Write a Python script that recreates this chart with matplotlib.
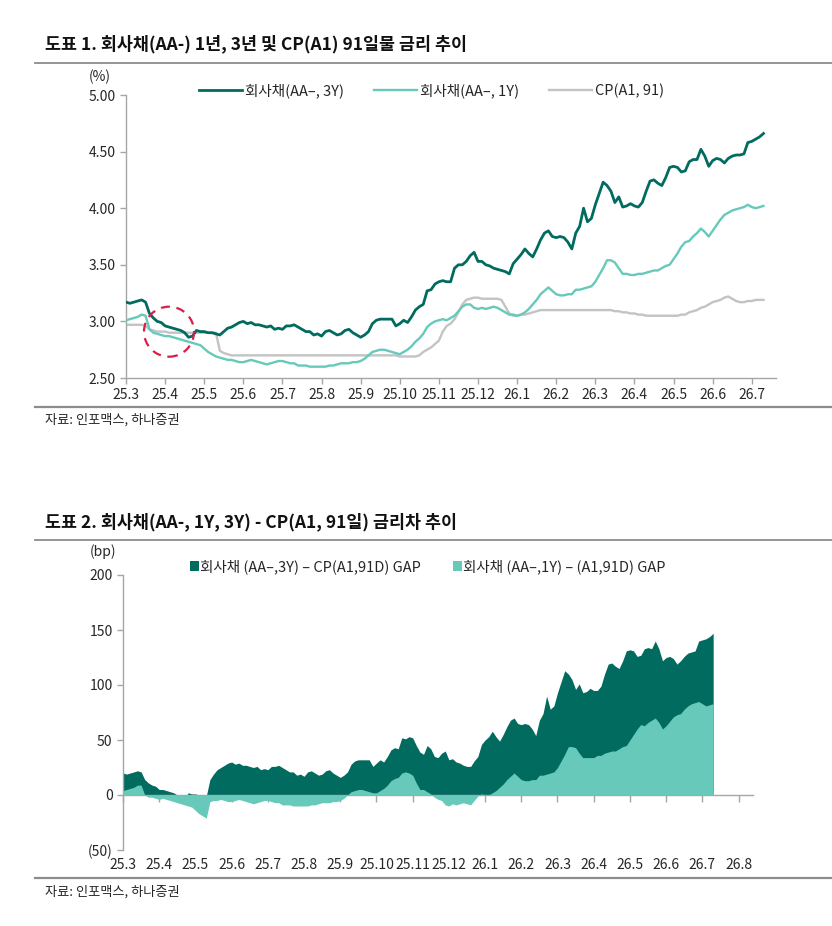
import matplotlib
matplotlib.use("Agg")
import matplotlib.pyplot as plt
import numpy as np
from matplotlib.lines import Line2D
from matplotlib.patches import Ellipse, Patch
from matplotlib.ticker import FuncFormatter, FormatStrFormatter
from matplotlib.transforms import blended_transform_factory

plt.rcParams["font.family"] = ["Noto Sans CJK KR", "DejaVu Sans"]

# months since 25.3, sampled every 0.1 month (~3 days)
months = np.round(np.arange(0, 16.35, 0.1), 1)

corp_3y = [
    3.17, 3.16, 3.17, 3.18, 3.19, 3.17, 3.07, 3.03, 3.00, 2.99,
    2.96, 2.95, 2.94, 2.93, 2.92, 2.90, 2.86, 2.87, 2.92, 2.91,
    2.91, 2.90, 2.90, 2.89, 2.88, 2.91, 2.94, 2.95, 2.97, 2.99,
    3.00, 2.98, 2.99, 2.97, 2.97, 2.96, 2.95, 2.96, 2.93, 2.94,
    2.93, 2.96, 2.96, 2.97, 2.95, 2.93, 2.91, 2.91, 2.88, 2.89,
    2.87, 2.91, 2.92, 2.90, 2.88, 2.89, 2.92, 2.93, 2.90, 2.88,
    2.86, 2.88, 2.91, 2.98, 3.01, 3.02, 3.02, 3.02, 3.02, 2.96,
    2.98, 3.01, 2.99, 3.04, 3.10, 3.13, 3.15, 3.27, 3.28, 3.33,
    3.35, 3.36, 3.35, 3.35, 3.47, 3.50, 3.50, 3.53, 3.58, 3.61,
    3.53, 3.53, 3.50, 3.49, 3.47, 3.46, 3.45, 3.44, 3.42, 3.51,
    3.55, 3.59, 3.64, 3.60, 3.57, 3.64, 3.72, 3.78, 3.80, 3.75,
    3.74, 3.75, 3.74, 3.70, 3.64, 3.78, 3.84, 4.00, 3.88, 3.91,
    4.03, 4.13, 4.23, 4.20, 4.15, 4.05, 4.10, 4.01, 4.02, 4.04,
    4.02, 4.01, 4.05, 4.15, 4.24, 4.25, 4.22, 4.20, 4.27, 4.36,
    4.37, 4.36, 4.32, 4.33, 4.41, 4.43, 4.43, 4.52, 4.46, 4.37,
    4.42, 4.44, 4.43, 4.40, 4.44, 4.46, 4.47, 4.47, 4.48, 4.58,
    4.59, 4.61, 4.63, 4.66,
]

corp_1y = [
    3.01, 3.02, 3.03, 3.04, 3.06, 3.05, 2.93, 2.90, 2.89, 2.88,
    2.87, 2.87, 2.86, 2.85, 2.84, 2.83, 2.82, 2.81, 2.80, 2.79,
    2.76, 2.73, 2.71, 2.69, 2.68, 2.67, 2.66, 2.66, 2.65, 2.64,
    2.64, 2.65, 2.66, 2.65, 2.64, 2.63, 2.62, 2.63, 2.64, 2.65,
    2.65, 2.64, 2.63, 2.63, 2.61, 2.61, 2.61, 2.60, 2.60, 2.60,
    2.60, 2.60, 2.61, 2.61, 2.62, 2.63, 2.63, 2.63, 2.64, 2.64,
    2.65, 2.67, 2.70, 2.73, 2.74, 2.75, 2.75, 2.74, 2.73, 2.72,
    2.71, 2.73, 2.75, 2.78, 2.82, 2.85, 2.89, 2.95, 2.98, 3.00,
    3.01, 3.02, 3.01, 3.03, 3.05, 3.09, 3.13, 3.15, 3.15, 3.12,
    3.11, 3.12, 3.11, 3.12, 3.13, 3.12, 3.10, 3.08, 3.06, 3.06,
    3.05, 3.06, 3.08, 3.11, 3.15, 3.19, 3.24, 3.27, 3.30, 3.27,
    3.24, 3.23, 3.23, 3.24, 3.24, 3.28, 3.28, 3.29, 3.30, 3.31,
    3.35, 3.41, 3.47, 3.54, 3.54, 3.52, 3.47, 3.42, 3.42, 3.41,
    3.41, 3.42, 3.42, 3.43, 3.44, 3.45, 3.45, 3.47, 3.49, 3.50,
    3.55, 3.60, 3.66, 3.70, 3.71, 3.75, 3.78, 3.82, 3.79, 3.75,
    3.80, 3.85, 3.90, 3.94, 3.96, 3.98, 3.99, 4.00, 4.01, 4.03,
    4.01, 4.00, 4.01, 4.02,
]

cp_91 = [
    2.97, 2.97, 2.97, 2.97, 2.97, 2.96, 2.93, 2.92, 2.91, 2.91,
    2.91, 2.90, 2.90, 2.90, 2.90, 2.90, 2.90, 2.90, 2.90, 2.90,
    2.90, 2.90, 2.90, 2.90, 2.74, 2.72, 2.71, 2.70, 2.70, 2.70,
    2.70, 2.70, 2.70, 2.70, 2.70, 2.70, 2.70, 2.70, 2.70, 2.70,
    2.70, 2.70, 2.70, 2.70, 2.70, 2.70, 2.70, 2.70, 2.70, 2.70,
    2.70, 2.70, 2.70, 2.70, 2.70, 2.70, 2.70, 2.70, 2.70, 2.70,
    2.70, 2.70, 2.70, 2.70, 2.70, 2.70, 2.70, 2.70, 2.70, 2.70,
    2.69, 2.69, 2.69, 2.69, 2.69, 2.70, 2.73, 2.75, 2.77, 2.80,
    2.83, 2.91, 2.96, 2.98, 3.02, 3.08, 3.15, 3.19, 3.20, 3.21,
    3.21, 3.20, 3.20, 3.20, 3.20, 3.20, 3.19, 3.13, 3.07, 3.05,
    3.05, 3.06, 3.06, 3.07, 3.08, 3.09, 3.10, 3.10, 3.10, 3.10,
    3.10, 3.10, 3.10, 3.10, 3.10, 3.10, 3.10, 3.10, 3.10, 3.10,
    3.10, 3.10, 3.10, 3.10, 3.10, 3.09, 3.09, 3.08, 3.08, 3.07,
    3.07, 3.06, 3.06, 3.05, 3.05, 3.05, 3.05, 3.05, 3.05, 3.05,
    3.05, 3.05, 3.06, 3.06, 3.08, 3.09, 3.10, 3.12, 3.13, 3.15,
    3.17, 3.18, 3.19, 3.21, 3.22, 3.20, 3.18, 3.17, 3.17, 3.18,
    3.18, 3.19, 3.19, 3.19,
]

labels_1 = ["25.3", "25.4", "25.5", "25.6", "25.7", "25.8", "25.9", "25.10",
            "25.11", "25.12", "26.1", "26.2", "26.3", "26.4", "26.5", "26.6", "26.7"]
labels_2 = labels_1 + ["26.8"]

title_1 = "도표 1. 회사채(AA-) 1년, 3년 및 CP(A1) 91일물 금리 추이"
title_2 = "도표 2. 회사채(AA-, 1Y, 3Y) - CP(A1, 91일) 금리차 추이"
source = "자료: 인포맥스, 하나증권"

DARK = "#006b5e"
TEAL = "#66c9ba"
GRAY = "#c3c3c3"
AXIS = "#a6a6a6"
TXT = "#262626"

W, H = 832, 926


def fx(px):
    return px / W


def fy(py):
    return 1 - py / H


def style_axes(ax):
    for s in ["top", "right"]:
        ax.spines[s].set_visible(False)
    for s in ["left", "bottom"]:
        ax.spines[s].set_color(AXIS)
        ax.spines[s].set_linewidth(1.0)
    ax.tick_params(axis="both", direction="out", length=4, width=1.0,
                   color=AXIS, labelsize=10, labelcolor=TXT)


fig = plt.figure(figsize=(W / 100, H / 100), dpi=100)
fig.patch.set_facecolor("white")

# header / footer text and rules
fig.text(fx(45), fy(44), title_1, fontsize=12.5, fontweight="bold", va="center", color="#111111")
fig.text(fx(45), fy(522), title_2, fontsize=12.5, fontweight="bold", va="center", color="#111111")
for py in [63, 540]:
    fig.add_artist(Line2D([fx(35), 1], [fy(py), fy(py)], color="#8c8c8c", lw=1.3))
for py in [407, 878]:
    fig.add_artist(Line2D([fx(35), 1], [fy(py), fy(py)], color="#8c8c8c", lw=1.6))
fig.text(fx(45), fy(420), source, fontsize=9.5, va="center", color=TXT)
fig.text(fx(45), fy(892), source, fontsize=9.5, va="center", color=TXT)

# chart 1: rates
ax1 = fig.add_axes([fx(126), fy(378), 650 / W, 283 / H])
style_axes(ax1)
ax1.plot(months, cp_91, color=GRAY, lw=1.7, label="CP(A1, 91)", zorder=2)
ax1.plot(months, corp_1y, color=TEAL, lw=1.7, label="회사채(AA–, 1Y)", zorder=3)
ax1.plot(months, corp_3y, color=DARK, lw=2.0, label="회사채(AA–, 3Y)", zorder=4)
ax1.set_xlim(0, 16.62)
ax1.set_ylim(2.5, 5.0)
ax1.set_yticks(np.arange(2.5, 5.01, 0.5))
ax1.yaxis.set_major_formatter(FormatStrFormatter("%.2f"))
ax1.set_xticks(range(len(labels_1)))
ax1.set_xticklabels(labels_1)
ax1.tick_params(axis="x", pad=3)
ax1.add_patch(Ellipse((1.1, 2.909), 1.28, 0.442, fill=False, ec="#d81e4a",
                      lw=1.6, ls=(0, (4, 3)), zorder=5))
h, l = ax1.get_legend_handles_labels()
ax1.legend(h[::-1], l[::-1], loc="center", bbox_to_anchor=(0.47, 1.015), ncol=3,
           frameon=False, fontsize=10.5, handlelength=3.0, handletextpad=0.2,
           columnspacing=2.0, labelcolor=TXT)
fig.text(fx(100), fy(77), "(%)", fontsize=10, ha="center", va="center", color=TXT)

# chart 2: spreads in bp
gap_3y = (np.array(corp_3y) - np.array(cp_91)) * 100
gap_1y = (np.array(corp_1y) - np.array(cp_91)) * 100

ax2 = fig.add_axes([fx(123), fy(850), 630 / W, 275 / H])
style_axes(ax2)
ax2.fill_between(months, 0, gap_3y, color=DARK, lw=0, zorder=2)
ax2.fill_between(months, 0, gap_1y, color=TEAL, lw=0, zorder=3)
ax2.set_xlim(0, 17.4)
ax2.set_ylim(-50, 200)
ax2.set_yticks([-50, 0, 50, 100, 150, 200])
ax2.yaxis.set_major_formatter(FuncFormatter(lambda v, p: f"({abs(int(v))})" if v < 0 else f"{int(v)}"))
ax2.spines["bottom"].set_position(("data", 0))
ax2.set_xticks(range(len(labels_2)))
ax2.tick_params(axis="x", labelbottom=False, length=5)
trans = blended_transform_factory(ax2.transData, ax2.transAxes)
for i, lab in enumerate(labels_2):
    ax2.text(i, -0.055, lab, transform=trans, ha="center", va="center", fontsize=10, color=TXT)
handles = [Patch(facecolor=DARK, edgecolor="none"), Patch(facecolor=TEAL, edgecolor="none")]
ax2.legend(handles, ["회사채 (AA–,3Y) – CP(A1,91D) GAP", "회사채 (AA–,1Y) – (A1,91D) GAP"],
           loc="center", bbox_to_anchor=(0.484, 1.03), ncol=2, frameon=False, fontsize=10.5,
           handlelength=0.6, handleheight=0.6, handletextpad=0.1, columnspacing=2.2,
           labelcolor=TXT)
fig.text(fx(103), fy(552), "(bp)", fontsize=10, ha="center", va="center", color=TXT)

fig.savefig("out.png", dpi=100, facecolor="white")
